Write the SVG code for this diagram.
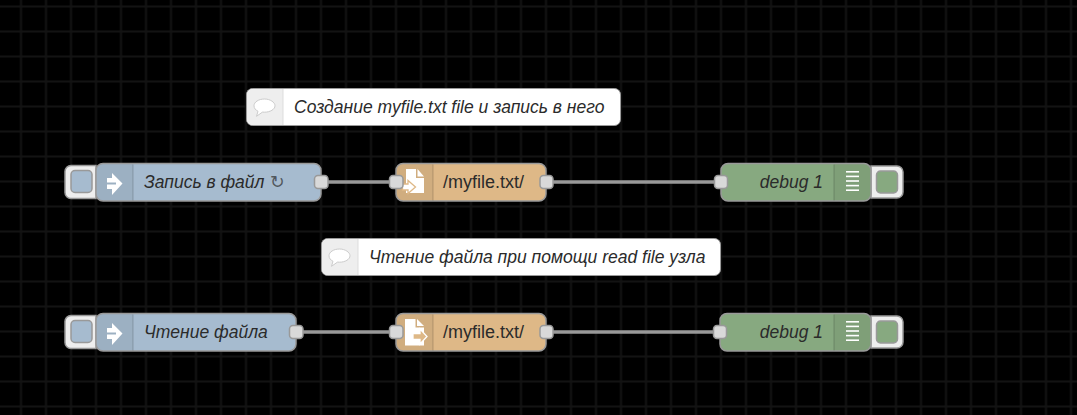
<svg xmlns="http://www.w3.org/2000/svg" width="1077" height="415" viewBox="0 0 1077 415">
<style>
.n{stroke:#999;stroke-width:1.5}
.shade{fill:#000;fill-opacity:.06}
.sep{stroke:#000;stroke-opacity:.12;stroke-width:1.5}
.port{fill:#d9d9d9;stroke:#999;stroke-width:1.5}
.btn{fill:#eee;stroke:#999;stroke-width:1.5}
.wire{fill:none;stroke:#999;stroke-width:3.5}
.t{font-family:"Liberation Sans",Arial,sans-serif;font-size:17.5px;fill:#2b2b2b}
.f{font-size:18px}
.i{font-style:italic}
.ic{fill:#fff}
.cm{fill:#fff;stroke:#999;stroke-width:1}
.cs{fill:#eee}
.bub{fill:#fff;stroke:#ccc;stroke-width:1}
</style>
<defs>
<pattern id="g" width="25" height="25" patternUnits="userSpaceOnUse" patternTransform="translate(8.5 -6)">
<path d="M12.5 0V25M0 12.5H25" fill="none" stroke="#fff" stroke-opacity=".075" stroke-width="2"/>
</pattern>
<g id="inj"><path class="ic" d="M107 178H112V173L122.500 183.500 112 195V189H107V184.500H116V182.500H107z"/></g>
<g id="bubble"><path class="bub" d="M264.500 99c-5.800 0-10.500 3-10.500 6.800 0 2.300 1.600 4.300 4 5.500l-1.500 5 6-4.200c.7.100 1.400.1 2 .1 5.800 0 10.500-3 10.500-6.400s-4.700-6.800-10.500-6.800z"/></g>
<g id="lines"><rect class="ic" x="846" y="171" width="13" height="1.600"/><rect class="ic" x="846" y="175.600" width="13" height="1.600"/><rect class="ic" x="846" y="180.200" width="13" height="1.600"/><rect class="ic" x="846" y="184.800" width="13" height="1.600"/><rect class="ic" x="846" y="189.400" width="13" height="1.600"/></g>
</defs>
<rect width="1077" height="415" fill="#000"/>
<rect width="1077" height="415" fill="url(#g)"/>
<g id="connectors">
<path class="wire" d="M321 182H396"/>
<path class="wire" d="M546 182H721"/>
<path class="wire" d="M296 332H396"/>
<path class="wire" d="M546 332H720"/>
</g>
<g id="comment1">
<rect class="cm" x="246.500" y="88.500" width="374" height="37" rx="6"/>
<path class="cs" d="M253 89h30v36h-30a6 6 0 0 1-6-6v-24a6 6 0 0 1 6-6z"/>
<path d="M283 89v36" stroke="#ddd" stroke-width="1"/>
<use href="#bubble"/>
<text class="t i" x="294" y="113">Создание myfile.txt file и запись в него</text>
</g>
<g id="comment2">
<rect class="cm" x="321.500" y="238.500" width="399" height="37" rx="6"/>
<path class="cs" d="M328 239h30v36h-30a6 6 0 0 1-6-6v-24a6 6 0 0 1 6-6z"/>
<path d="M358 239v36" stroke="#ddd" stroke-width="1"/>
<use href="#bubble" x="75" y="150"/>
<text class="t i" x="369" y="263">Чтение файла при помощи read file узла</text>
</g>
<g id="inject1">
<path class="btn" d="M96 165.500H71a6 6 0 0 0-6 6v21a6 6 0 0 0 6 6h25z"/>
<rect x="71" y="170.500" width="21" height="22" rx="4" fill="#a6bbcf" stroke="#999" stroke-width="1.500"/>
<rect class="n" x="96" y="163.500" width="225" height="37.500" rx="7" fill="#a6bbcf"/>
<path class="shade" d="M103 164.300h30v36h-30a6.200 6.200 0 0 1-6.200-6.200v-23.600a6.200 6.200 0 0 1 6.200-6.200z"/>
<path class="sep" d="M133 164.500v36"/>
<use href="#inj"/>
<text class="t i" x="144" y="188">Запись в файл</text>
<text class="t i" x="270" y="188" fill-opacity=".7" style="font-family:'DejaVu Sans',sans-serif;fill-opacity:.7">↻</text>
<rect class="port" x="314.500" y="175.500" width="13.500" height="13" rx="3.500"/>
</g>
<g id="file1">
<rect class="n" x="396" y="163.500" width="150" height="37.500" rx="7" fill="#deb887"/>
<path class="shade" d="M403 164.300h30v36h-30a6.200 6.200 0 0 1-6.200-6.200v-23.600a6.200 6.200 0 0 1 6.200-6.200z"/>
<path class="sep" d="M433 164.500v36"/>
<path class="ic" d="M406 169h10v9h8v15h-18z"/>
<path class="ic" d="M417.500 169l6.500 7.500h-6.500z"/>
<path class="ic" stroke="#deb887" stroke-width="1.300" d="M402.500 184h5.500v-3.500l7.500 6.500-7.500 6.500v-3.500h-5.500z"/>
<text class="t f" x="443" y="188">/myfile.txt/</text>
<rect class="port" x="389.500" y="175.500" width="13.500" height="13" rx="3.500"/>
<rect class="port" x="540" y="175.500" width="13" height="13" rx="3.500"/>
</g>
<g id="debug1">
<path class="btn" d="M871 166H897a6 6 0 0 1 6 6v20a6 6 0 0 1-6 6h-26z"/>
<rect x="876.500" y="171" width="21" height="22" rx="4" fill="#87a980" stroke="#999" stroke-width="1.500"/>
<rect class="n" x="721" y="163.500" width="150" height="37.500" rx="7" fill="#87a980"/>
<path class="shade" d="M834 164.300h30a6.200 6.200 0 0 1 6.200 6.200v23.600a6.200 6.200 0 0 1-6.200 6.200h-30z"/>
<path class="sep" d="M834 164.500v36"/>
<use href="#lines"/>
<text class="t i" x="823" y="188" text-anchor="end">debug 1</text>
<rect class="port" x="714.500" y="175.500" width="13" height="13" rx="3.500"/>
</g>
<g id="inject2">
<path class="btn" d="M96 315.500H71a6 6 0 0 0-6 6v21a6 6 0 0 0 6 6h25z"/>
<rect x="71" y="320.500" width="21" height="22" rx="4" fill="#a6bbcf" stroke="#999" stroke-width="1.500"/>
<rect class="n" x="96" y="313.500" width="200" height="37.500" rx="7" fill="#a6bbcf"/>
<path class="shade" d="M103 314.300h30v36h-30a6.200 6.200 0 0 1-6.200-6.200v-23.600a6.200 6.200 0 0 1 6.200-6.200z"/>
<path class="sep" d="M133 314.500v36"/>
<use href="#inj" y="150"/>
<text class="t i" x="144" y="338">Чтение файла</text>
<rect class="port" x="289.500" y="325.500" width="13.500" height="13" rx="3.500"/>
</g>
<g id="file2">
<rect class="n" x="396" y="313.500" width="150" height="37.500" rx="7" fill="#deb887"/>
<path class="shade" d="M403 314.300h30v36h-30a6.200 6.200 0 0 1-6.200-6.200v-23.600a6.200 6.200 0 0 1 6.200-6.200z"/>
<path class="sep" d="M433 314.500v36"/>
<path class="ic" d="M405 319h10.500v8.500H424v18h-19z"/>
<path class="ic" d="M417 319l7 7h-7z"/>
<path fill="#deb887" stroke="#fff" stroke-width="1.300" d="M413 333.500h7v-4.500l7 7.500-7 7.500v-4.500h-7z"/>
<text class="t f" x="443" y="338">/myfile.txt/</text>
<rect class="port" x="389.500" y="325.500" width="13.500" height="13" rx="3.500"/>
<rect class="port" x="540" y="325.500" width="13" height="13" rx="3.500"/>
</g>
<g id="debug2">
<path class="btn" d="M871 316H897a6 6 0 0 1 6 6v20a6 6 0 0 1-6 6h-26z"/>
<rect x="876.500" y="321" width="21" height="22" rx="4" fill="#87a980" stroke="#999" stroke-width="1.500"/>
<rect class="n" x="720" y="313.500" width="151" height="37.500" rx="7" fill="#87a980"/>
<path class="shade" d="M834 314.300h30a6.200 6.200 0 0 1 6.200 6.200v23.600a6.200 6.200 0 0 1-6.200 6.200h-30z"/>
<path class="sep" d="M834 314.500v36"/>
<use href="#lines" y="150"/>
<text class="t i" x="823" y="338" text-anchor="end">debug 1</text>
<rect class="port" x="713.500" y="325.500" width="13" height="13" rx="3.500"/>
</g>
</svg>
